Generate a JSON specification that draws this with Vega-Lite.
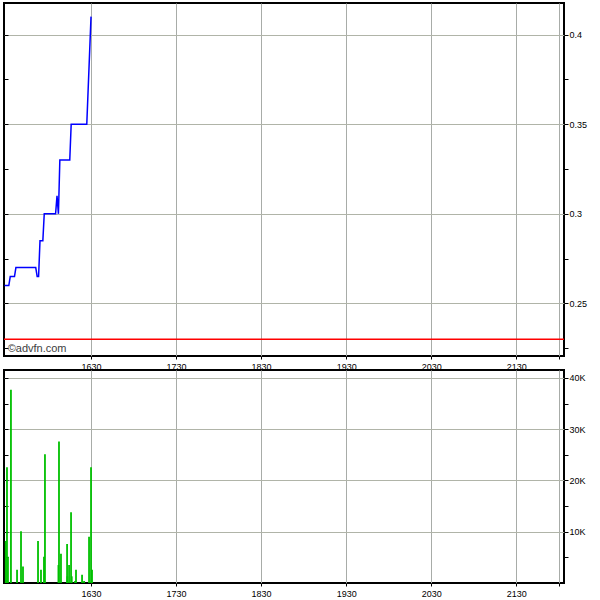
{
  "$schema": "https://vega.github.io/schema/vega-lite/v6.json",
  "padding": {"left": 2, "top": 2, "right": 0, "bottom": 0},
  "background": "white",
  "bounds": "flush",
  "spacing": 14,
  "config": {
    "view": {"stroke": "#000000", "strokeWidth": 2},
    "font": "Liberation Sans",
    "scale": {"continuousPadding": 0},
    "axis": {
      "labelFont": "Liberation Sans",
      "labelFontSize": 9,
      "labelColor": "#000000",
      "domain": false,
      "tickColor": "#000000",
      "gridColor": "#b0b4a8",
      "gridWidth": 1,
      "title": null
    }
  },
  "datasets": {
    "price": [
      {"time": "2024-01-01T15:29:00", "price": 0.26},
      {"time": "2024-01-01T15:32:00", "price": 0.26},
      {"time": "2024-01-01T15:33:00", "price": 0.265},
      {"time": "2024-01-01T15:36:00", "price": 0.265},
      {"time": "2024-01-01T15:37:00", "price": 0.27},
      {"time": "2024-01-01T15:51:00", "price": 0.27},
      {"time": "2024-01-01T15:52:00", "price": 0.265},
      {"time": "2024-01-01T15:53:00", "price": 0.265},
      {"time": "2024-01-01T15:54:00", "price": 0.285},
      {"time": "2024-01-01T15:56:00", "price": 0.285},
      {"time": "2024-01-01T15:57:00", "price": 0.30},
      {"time": "2024-01-01T16:05:00", "price": 0.30},
      {"time": "2024-01-01T16:06:00", "price": 0.31},
      {"time": "2024-01-01T16:07:00", "price": 0.30},
      {"time": "2024-01-01T16:08:00", "price": 0.33},
      {"time": "2024-01-01T16:15:00", "price": 0.33},
      {"time": "2024-01-01T16:16:00", "price": 0.35},
      {"time": "2024-01-01T16:27:00", "price": 0.35},
      {"time": "2024-01-01T16:30:00", "price": 0.41}
    ],
    "prevclose": [{"price": 0.23}],
    "volume": [
      {"time": "2024-01-01T15:29:50", "volume": 8200},
      {"time": "2024-01-01T15:30:42", "volume": 22600},
      {"time": "2024-01-01T15:31:24", "volume": 5100},
      {"time": "2024-01-01T15:33:30", "volume": 37700},
      {"time": "2024-01-01T15:37:48", "volume": 2600},
      {"time": "2024-01-01T15:40:36", "volume": 10100},
      {"time": "2024-01-01T15:42:00", "volume": 3200},
      {"time": "2024-01-01T15:52:36", "volume": 8200},
      {"time": "2024-01-01T15:54:42", "volume": 2600},
      {"time": "2024-01-01T15:56:48", "volume": 5100},
      {"time": "2024-01-01T15:57:30", "volume": 25100},
      {"time": "2024-01-01T16:07:00", "volume": 3500},
      {"time": "2024-01-01T16:07:24", "volume": 27600},
      {"time": "2024-01-01T16:08:48", "volume": 5700},
      {"time": "2024-01-01T16:13:06", "volume": 7600},
      {"time": "2024-01-01T16:13:18", "volume": 1300},
      {"time": "2024-01-01T16:14:30", "volume": 3500},
      {"time": "2024-01-01T16:15:54", "volume": 13800},
      {"time": "2024-01-01T16:16:24", "volume": 1300},
      {"time": "2024-01-01T16:18:42", "volume": 400},
      {"time": "2024-01-01T16:19:24", "volume": 2600},
      {"time": "2024-01-01T16:23:40", "volume": 1600},
      {"time": "2024-01-01T16:25:06", "volume": 400},
      {"time": "2024-01-01T16:28:36", "volume": 9000},
      {"time": "2024-01-01T16:30:00", "volume": 22600},
      {"time": "2024-01-01T16:30:42", "volume": 2600}
    ]
  },
  "vconcat": [
    {
      "width": 560,
      "height": 353,
      "layer": [
        {
          "data": {"name": "price"},
          "mark": {"type": "line", "color": "#0000ff", "strokeWidth": 1.5, "clip": true},
          "encoding": {
            "x": {
              "field": "time",
              "type": "temporal",
              "scale": {"padding": 0, "domain": [
                {"year": 2024, "month": 1, "date": 1, "hours": 15, "minutes": 28, "seconds": 36},
                {"year": 2024, "month": 1, "date": 1, "hours": 22, "minutes": 3, "seconds": 42}
              ]},
              "axis": {
                "values": [
                  {"year": 2024, "month": 1, "date": 1, "hours": 16, "minutes": 30},
                  {"year": 2024, "month": 1, "date": 1, "hours": 17, "minutes": 30},
                  {"year": 2024, "month": 1, "date": 1, "hours": 18, "minutes": 30},
                  {"year": 2024, "month": 1, "date": 1, "hours": 19, "minutes": 30},
                  {"year": 2024, "month": 1, "date": 1, "hours": 20, "minutes": 30},
                  {"year": 2024, "month": 1, "date": 1, "hours": 21, "minutes": 30},
                  {"year": 2024, "month": 1, "date": 1, "hours": 22, "minutes": 0}
                ],
                "labelExpr": "hours(datum.value) == 22 ? '' : timeFormat(datum.value, '%H%M')",
                "tickSize": 3,
                "labelPadding": 3,
                "grid": true,
                "gridColor": "#a8aca8",
                "labelFlush": false,
                "labelOverlap": false
              }
            },
            "y": {
              "field": "price",
              "type": "quantitative",
              "scale": {"domain": [0.2207, 0.4176], "zero": false, "nice": false},
              "axis": {
                "orient": "right",
                "values": [0.225, 0.25, 0.275, 0.3, 0.325, 0.35, 0.375, 0.4],
                "format": ".3~f",
                "labelExpr": "round(datum.value*1000) % 50 == 0 ? datum.label : ''",
                "tickSize": 4,
                "labelPadding": 1,
                "grid": true,
                "gridOpacity": {"condition": {"test": "round(datum.value*1000) % 50 == 0", "value": 1}, "value": 0}
              }
            }
          }
        },
        {
          "data": {"name": "prevclose"},
          "mark": {"type": "rule", "color": "#ff0000", "strokeWidth": 1.5},
          "encoding": {
            "y": {
              "field": "price",
              "type": "quantitative",
              "axis": {
                "orient": "left",
                "values": [0.225, 0.25, 0.275, 0.3, 0.325, 0.35, 0.375, 0.4],
                "labels": false,
                "tickSize": -4,
                "grid": false
              }
            }
          }
        },
        {
          "data": {"values": [{}]},
          "mark": {"type": "text", "align": "left", "baseline": "middle", "fontSize": 11, "font": "Liberation Sans", "color": "#404040"},
          "encoding": {
            "x": {"datum": {"year": 2024, "month": 1, "date": 1, "hours": 15, "minutes": 31, "seconds": 12}, "type": "temporal"},
            "y": {"datum": 0.2247, "type": "quantitative", "axis": null},
            "text": {"value": "©advfn.com"}
          }
        }
      ],
      "resolve": {"axis": {"y": "independent"}}
    },
    {
      "width": 560,
      "height": 213,
      "data": {"name": "volume"},
      "layer": [
        {
          "mark": {"type": "bar", "color": "#00c000", "size": 1.8, "clip": true},
          "encoding": {
            "x": {
              "field": "time",
              "type": "temporal",
              "scale": {"padding": 0, "domain": [
                {"year": 2024, "month": 1, "date": 1, "hours": 15, "minutes": 28, "seconds": 36},
                {"year": 2024, "month": 1, "date": 1, "hours": 22, "minutes": 3, "seconds": 42}
              ]},
              "axis": {
                "values": [
                  {"year": 2024, "month": 1, "date": 1, "hours": 16, "minutes": 30},
                  {"year": 2024, "month": 1, "date": 1, "hours": 17, "minutes": 30},
                  {"year": 2024, "month": 1, "date": 1, "hours": 18, "minutes": 30},
                  {"year": 2024, "month": 1, "date": 1, "hours": 19, "minutes": 30},
                  {"year": 2024, "month": 1, "date": 1, "hours": 20, "minutes": 30},
                  {"year": 2024, "month": 1, "date": 1, "hours": 21, "minutes": 30},
                  {"year": 2024, "month": 1, "date": 1, "hours": 22, "minutes": 0}
                ],
                "labelExpr": "hours(datum.value) == 22 ? '' : timeFormat(datum.value, '%H%M')",
                "tickSize": 3,
                "labelPadding": 3,
                "grid": true,
                "gridColor": "#a8aca8",
                "labelFlush": false,
                "labelOverlap": false
              }
            },
            "y": {
              "field": "volume",
              "type": "quantitative",
              "scale": {"domain": [0, 41550], "nice": false},
              "axis": {
                "orient": "right",
                "values": [5000, 10000, 15000, 20000, 25000, 30000, 35000, 40000],
                "labelExpr": "datum.value % 10000 == 0 ? (datum.value/1000) + 'K' : ''",
                "tickSize": 4,
                "labelPadding": 1,
                "grid": true,
                "gridOpacity": {"condition": {"test": "datum.value % 10000 == 0", "value": 1}, "value": 0}
              }
            }
          }
        },
        {
          "mark": {"type": "bar", "opacity": 0, "size": 1},
          "encoding": {
            "x": {"field": "time", "type": "temporal"},
            "y": {
              "field": "volume",
              "type": "quantitative",
              "axis": {
                "orient": "left",
                "values": [5000, 10000, 15000, 20000, 25000, 30000, 35000, 40000],
                "labels": false,
                "tickSize": -4,
                "grid": false
              }
            }
          }
        }
      ],
      "resolve": {"axis": {"y": "independent"}}
    }
  ]
}
